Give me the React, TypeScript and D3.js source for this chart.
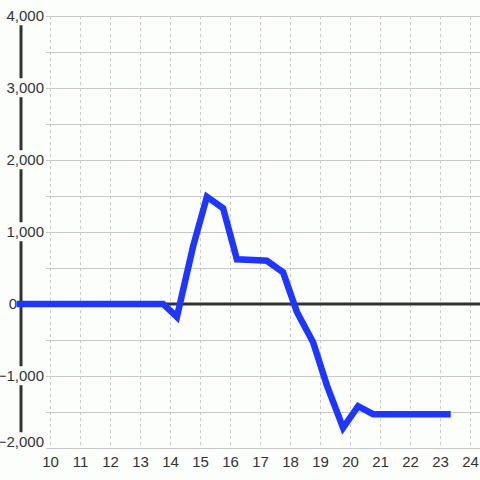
import React, { useEffect, useRef } from "react";
import * as d3 from "d3";

const hours = [9, 10, 11, 12, 13, 13.77, 14.23, 14.77, 15.23, 15.77, 16.23, 16.77, 17.23, 17.77, 18.23, 18.77, 19.23, 19.77, 20.27, 20.77, 21.5, 22.5, 23.25];
const values = [0, 0, 0, 0, 0, 0, -180, 800, 1490, 1330, 620, 610, 600, 440, -110, -530, -1130, -1720, -1420, -1530, -1530, -1530, -1530];
const yTicks = [-2000, -1000, 0, 1000, 2000, 3000, 4000];
const yMinor = [-1500, -500, 500, 1500, 2500, 3500];
const xTicks = [10, 11, 12, 13, 14, 15, 16, 17, 18, 19, 20, 21, 22, 23, 24];

const W = 480;
const H = 480;
const BG = "#fcfefc";
const FONT = "'Liberation Sans', Arial, sans-serif";

export default function App() {
  const ref = useRef<SVGSVGElement>(null);
  useEffect(() => {
    const svg = d3.select(ref.current);
    svg.selectAll("*").remove();
    const x = d3.scaleLinear().domain([9, 24]).range([20, 470]);
    const y = d3.scaleLinear().domain([-2000, 4000]).range([448, 16]);
    const fmt = d3.format(",");

    svg.append("rect").attr("width", W).attr("height", H).attr("fill", BG);

    // vertical dashed grid
    svg.append("g").selectAll("line").data(xTicks).join("line")
      .attr("x1", d => x(d) + 0.5).attr("x2", d => x(d) + 0.5)
      .attr("y1", y(4000)).attr("y2", y(-2000))
      .attr("stroke", "#c8c8c8").attr("stroke-width", 1).attr("stroke-dasharray", "3,3");

    // horizontal grid
    svg.append("g").selectAll("line").data([...yTicks, ...yMinor].filter(d => d !== 0)).join("line")
      .attr("x1", 46).attr("x2", W)
      .attr("y1", d => y(d) + 0.5).attr("y2", d => y(d) + 0.5)
      .attr("stroke", "#c8c8c8").attr("stroke-width", 1);

    // y axis line
    svg.append("line").attr("x1", 21).attr("x2", 21).attr("y1", y(4000)).attr("y2", y(-2000))
      .attr("stroke", "#333").attr("stroke-width", 3);

    // zero line
    svg.append("line").attr("x1", 20).attr("x2", W).attr("y1", y(0)).attr("y2", y(0))
      .attr("stroke", "#333").attr("stroke-width", 3);

    // y labels with background
    const yl = svg.append("g");
    yTicks.forEach(t => {
      const tx = t === 0 ? 17 : 44;
      const ty = t === -2000 ? y(t) - 6 : y(t);
      const g = yl.append("g");
      const txt = g.append("text").attr("x", tx).attr("y", ty).attr("dy", "0.35em")
        .attr("text-anchor", "end").attr("font-family", FONT)
        .attr("font-size", 15).attr("fill", "#333").text(fmt(t));
      if (t !== 0) {
        const bb = (txt.node() as SVGTextElement).getBBox();
        g.insert("rect", "text").attr("x", bb.x - 1).attr("y", bb.y - 1)
          .attr("width", bb.width + 2).attr("height", bb.height + 2).attr("fill", BG);
      }
    });

    // x labels
    svg.append("g").selectAll("text").data(xTicks).join("text")
      .attr("x", d => x(d) + 0.5).attr("y", 467)
      .attr("text-anchor", "middle").attr("font-family", FONT)
      .attr("font-size", 15).attr("fill", "#333").text(d => String(d));

    // data line
    const pts: [number, number][] = hours.map((h, i) => [h, values[i]]);
    const line = d3.line<[number, number]>().x(d => x(d[0])).y(d => y(d[1]));
    svg.append("path").attr("d", line(pts) as string).attr("fill", "none")
      .attr("stroke", "#1f36ff").attr("stroke-width", 6.5)
      .attr("stroke-linejoin", "miter").attr("stroke-linecap", "square");
  }, []);
  return (
    <svg ref={ref} width={W} height={H} style={{ position: "fixed", left: 0, top: 0 }} />
  );
}
